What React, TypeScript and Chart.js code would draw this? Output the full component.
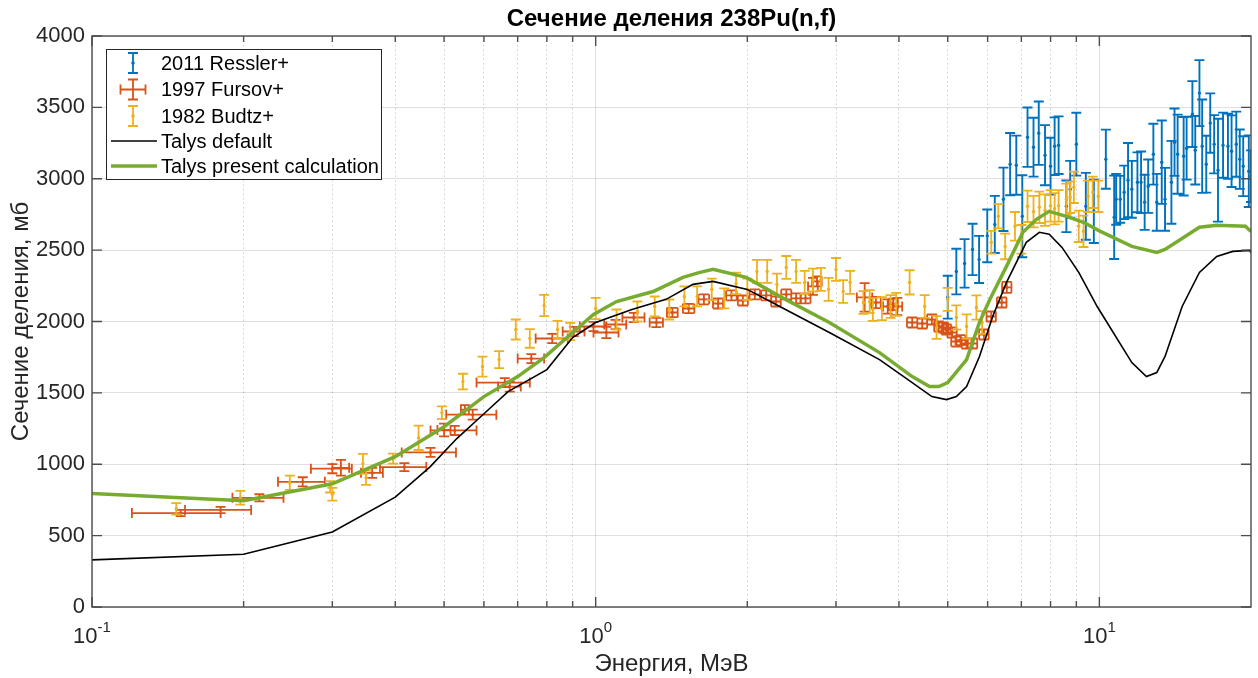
import React, { useEffect, useRef } from "react";
import { Chart, registerables } from "chart.js";

Chart.register(...registerables);

// ---------------- data ----------------
const X_MIN = 0.1;
const X_MAX = 20;
const Y_MIN = 0;
const Y_MAX = 4000;
const Y_STEP = 500;
const decadeStarts = [0.1, 1, 10];
const decadeExponents = ["-1", "0", "1"];
const minorMultipliers = [1, 2, 3, 4, 5, 6, 7, 8, 9];

const chartTitle = "Сечение деления 238Pu(n,f)";
const xTitle = "Энергия, МэВ";
const yTitle = "Сечение деления, мб";
const seriesLabels = ["2011 Ressler+", "1997 Fursov+", "1982 Budtz+", "Talys default", "Talys present calculation"];

// 2011 Ressler+ (energy MeV, cross-section mb, error mb)
const resslerE = [5.0, 5.2, 5.4, 5.6, 5.77, 5.99, 6.2, 6.45, 6.65, 6.84, 7.03, 7.2, 7.4, 7.58, 7.8, 8.0, 8.15, 8.3, 8.6, 8.75, 9.0, 9.4, 9.75, 10.3, 10.7, 10.8, 11.0, 11.2, 11.4, 11.6, 11.9, 12.1, 12.3, 12.5, 12.8, 13.0, 13.3, 13.5, 13.9, 14.1, 14.3, 14.7, 14.9, 15.3, 15.5, 15.8, 16.0, 16.3, 16.6, 16.9, 17.2, 17.6, 18.0, 18.3, 18.7, 19.0, 19.3, 19.8, 20.0];
const resslerXS = [2170, 2350, 2407, 2505, 2435, 2600, 2680, 2856, 3102, 3095, 2737, 3291, 3221, 3319, 3165, 3088, 3228, 3235, 2807, 2926, 3242, 2807, 2772, 3137, 2730, 2856, 2856, 2905, 2990, 2926, 2975, 2975, 2835, 2948, 3172, 2835, 3116, 2856, 2975, 3256, 3172, 3158, 3214, 3453, 3200, 3600, 3228, 3102, 3390, 3242, 3060, 3235, 3228, 3193, 3242, 3137, 3088, 3053, 3018];
const resslerErr = [150, 160, 170, 180, 165, 185, 200, 222, 218, 207, 287, 208, 206, 222, 211, 199, 202, 202, 181, 199, 220, 234, 222, 207, 292, 178, 164, 187, 260, 199, 210, 216, 193, 187, 213, 199, 292, 220, 290, 236, 277, 275, 220, 231, 240, 231, 327, 199, 208, 204, 360, 228, 228, 251, 228, 208, 210, 251, 181];

// 1997 Fursov+ (energy, energy error, cross-section, error)
const fursovE = [0.15, 0.18, 0.215, 0.262, 0.30, 0.312, 0.36, 0.417, 0.47, 0.50, 0.525, 0.55, 0.57, 0.66, 0.675, 0.745, 0.82, 0.905, 0.99, 1.05, 1.095, 1.19, 1.32, 1.42, 1.53, 1.64, 1.75, 1.86, 1.96, 2.07, 2.18, 2.28, 2.39, 2.5, 2.61, 2.7, 2.75, 3.42, 3.6, 3.8, 3.9, 3.97, 4.25, 4.45, 4.65, 4.8, 4.9, 4.97, 5.1, 5.2, 5.3, 5.45, 5.6, 5.9, 6.1, 6.4, 6.55];
const fursovEErr = [0.03, 0.027, 0.025, 0.028, 0.028, 0.012, 0.018, 0.044, 0.058, 0.015, 0.055, 0.01, 0.065, 0.08, 0.035, 0.045, 0.06, 0.045, 0.06, 0.06, 0.055, 0.06, 0.04, 0.035, 0.04, 0.04, 0.04, 0.045, 0.045, 0.05, 0.05, 0.05, 0.055, 0.055, 0.06, 0.06, 0.06, 0.12, 0.08, 0.08, 0.08, 0.09, 0.1, 0.1, 0.1, 0.1, 0.11, 0.11, 0.11, 0.12, 0.12, 0.12, 0.12, 0.13, 0.13, 0.14, 0.14];
const fursovXS = [658, 680, 765, 877, 969, 975, 940, 980, 1083, 1240, 1237, 1382, 1347, 1572, 1544, 1740, 1881, 1930, 1965, 1923, 1979, 2028, 1993, 2063, 2091, 2155, 2126, 2183, 2147, 2190, 2183, 2140, 2190, 2162, 2162, 2246, 2281, 2169, 2133, 2105, 2120, 2105, 1993, 1986, 2014, 1965, 1958, 1944, 1923, 1860, 1870, 1846, 1846, 1909, 2035, 2133, 2239];
const fursovErr = [22, 22, 25, 32, 32, 55, 35, 28, 32, 45, 32, 32, 35, 32, 35, 32, 32, 32, 32, 40, 32, 32, 32, 32, 32, 35, 35, 35, 35, 35, 35, 35, 35, 35, 35, 60, 35, 100, 40, 50, 40, 60, 35, 35, 35, 35, 35, 35, 35, 35, 35, 35, 35, 35, 35, 35, 38];

// 1982 Budtz+ (energy, cross-section, error)
const budtzE = [0.147, 0.197, 0.247, 0.297, 0.30, 0.345, 0.35, 0.396, 0.445, 0.495, 0.545, 0.596, 0.643, 0.694, 0.74, 0.79, 0.84, 0.89, 1.0, 1.1, 1.21, 1.31, 1.40, 1.5, 1.59, 1.70, 1.8, 1.9, 2.0, 2.09, 2.19, 2.29, 2.39, 2.5, 2.6, 2.7, 2.8, 2.9, 3.0, 3.1, 3.2, 3.4, 3.5, 3.55, 3.7, 3.85, 3.95, 4.2, 4.5, 4.75, 5.0, 5.2, 5.45, 5.7, 5.85, 6.1, 6.3, 6.5, 6.8, 7.0, 7.2, 7.4, 7.6, 7.8, 8.0, 8.15, 8.3, 8.6, 8.75, 8.9, 9.1, 9.3, 9.5, 9.7, 9.95];
const budtzXS = [688, 765, 870, 842, 790, 1003, 905, 1039, 1185, 1361, 1579, 1684, 1733, 1944, 1881, 2112, 1944, 1930, 2091, 2014, 2070, 2105, 2084, 2176, 2176, 2225, 2162, 2267, 2225, 2351, 2351, 2260, 2379, 2351, 2274, 2290, 2295, 2225, 2365, 2210, 2274, 2133, 2140, 2084, 2090, 2105, 2120, 2274, 2105, 1958, 2155, 2028, 1965, 2098, 1993, 2555, 2737, 2526, 2667, 2576, 2807, 2770, 2800, 2780, 2810, 2790, 2810, 2856, 2870, 2940, 2667, 2632, 2877, 2905, 2877];
const budtzErr = [40, 48, 50, 40, 45, 70, 50, 35, 85, 45, 55, 70, 60, 70, 65, 75, 60, 60, 75, 70, 70, 70, 70, 70, 70, 75, 70, 75, 75, 80, 80, 75, 80, 80, 80, 80, 80, 80, 80, 80, 80, 80, 80, 80, 80, 80, 80, 85, 80, 80, 80, 85, 85, 85, 80, 80, 85, 90, 100, 100, 110, 110, 110, 110, 110, 110, 110, 110, 110, 110, 110, 110, 110, 110, 110];

// Talys default
const talysDefaultE = [0.1, 0.2, 0.3, 0.4, 0.469, 0.53, 0.603, 0.67, 0.8, 0.9, 1.0, 1.18, 1.38, 1.56, 1.71, 2.0, 2.32, 2.91, 3.66, 4.25, 4.65, 4.97, 5.2, 5.45, 5.78, 6.14, 6.54, 7.16, 7.6, 7.95, 8.43, 9.1, 9.9, 11.6, 12.4, 13.0, 13.5, 14.6, 15.8, 17.1, 18.4, 19.9, 20.0];
const talysDefaultXS = [330, 370, 525, 770, 982, 1180, 1361, 1509, 1663, 1888, 1993, 2084, 2155, 2260, 2281, 2225, 2105, 1923, 1733, 1572, 1474, 1453, 1474, 1544, 1755, 2035, 2274, 2555, 2625, 2611, 2519, 2344, 2105, 1712, 1614, 1642, 1755, 2105, 2344, 2456, 2491, 2498, 2480];

// Talys present calculation
const talysPresentE = [0.1, 0.2, 0.3, 0.4, 0.5, 0.6, 0.7, 0.79, 0.9, 0.99, 1.1, 1.3, 1.49, 1.61, 1.71, 1.99, 2.32, 2.91, 3.66, 4.25, 4.6, 4.8, 5.0, 5.45, 5.78, 6.06, 6.54, 7.05, 7.5, 7.95, 8.6, 9.3, 10.0, 11.6, 13.0, 13.5, 15.8, 17.1, 19.5, 20.0];
const talysPresentXS = [795, 744, 863, 1053, 1263, 1474, 1614, 1747, 1923, 2049, 2140, 2210, 2309, 2344, 2365, 2309, 2176, 1993, 1782, 1614, 1544, 1544, 1572, 1733, 1993, 2154, 2386, 2625, 2716, 2772, 2737, 2695, 2635, 2526, 2484, 2505, 2660, 2674, 2667, 2630];

// ---------------- styles ----------------
const FONT = "'Liberation Sans', Arial, Helvetica, sans-serif";
const AXIS_COLOR = "#262626";
const BLUE = "#0072BD";
const ORANGE = "#D95319";
const YELLOW = "#EDB120";
const GREEN = "#77AC30";
const BLACK = "#000000";

const isDecade = (v: number) => Math.abs(Math.log10(v) - Math.round(Math.log10(v))) < 1e-6;

const errorBarPlugin = {
  id: "errorBars",
  afterDatasetDraw(chart: any, args: any) {
    const ds: any = chart.data.datasets[args.index];
    if (!ds.errStyle) return;
    const { ctx, chartArea: a } = chart;
    const xs = chart.scales.x;
    const ys = chart.scales.y;
    const cap = ds.errStyle.cap;
    ctx.save();
    ctx.beginPath();
    ctx.rect(a.left, a.top, a.right - a.left, a.bottom - a.top);
    ctx.clip();
    ctx.strokeStyle = ds.borderColor;
    ctx.lineWidth = ds.errStyle.width;
    ctx.beginPath();
    for (const p of ds.data) {
      const px = xs.getPixelForValue(p.x);
      const py = ys.getPixelForValue(p.y);
      if (p.yerr) {
        const y1 = ys.getPixelForValue(p.y - p.yerr);
        const y2 = ys.getPixelForValue(p.y + p.yerr);
        ctx.moveTo(px, y1); ctx.lineTo(px, y2);
        ctx.moveTo(px - cap, y1); ctx.lineTo(px + cap, y1);
        ctx.moveTo(px - cap, y2); ctx.lineTo(px + cap, y2);
      }
      if (p.xerr) {
        const x1 = xs.getPixelForValue(p.x - p.xerr);
        const x2 = xs.getPixelForValue(p.x + p.xerr);
        ctx.moveTo(x1, py); ctx.lineTo(x2, py);
        ctx.moveTo(x1, py - cap); ctx.lineTo(x1, py + cap);
        ctx.moveTo(x2, py - cap); ctx.lineTo(x2, py + cap);
      }
    }
    ctx.stroke();
    ctx.restore();
  },
};

const framePlugin = {
  id: "matlabFrame",
  afterDraw(chart: any) {
    const { ctx, chartArea: a } = chart;
    const xs = chart.scales.x;
    const ys = chart.scales.y;
    ctx.save();
    // box
    ctx.strokeStyle = "#4d4d4d";
    ctx.lineWidth = 1.4;
    ctx.strokeRect(a.left, a.top, a.right - a.left, a.bottom - a.top);
    // ticks
    ctx.beginPath();
    for (const t of xs.ticks) {
      const px = xs.getPixelForValue(t.value);
      const len = isDecade(t.value) ? 10 : 6;
      ctx.moveTo(px, a.bottom); ctx.lineTo(px, a.bottom - len);
      ctx.moveTo(px, a.top); ctx.lineTo(px, a.top + len);
    }
    for (const t of ys.ticks) {
      const py = ys.getPixelForValue(t.value);
      ctx.moveTo(a.left, py); ctx.lineTo(a.left + 10, py);
      ctx.moveTo(a.right, py); ctx.lineTo(a.right - 10, py);
    }
    ctx.stroke();

    // x tick labels 10^n
    ctx.fillStyle = AXIS_COLOR;
    ctx.textBaseline = "alphabetic";
    decadeStarts.forEach((v, i) => {
      const px = xs.getPixelForValue(v);
      ctx.font = `22px ${FONT}`;
      const wBase = ctx.measureText("10").width;
      ctx.font = `15px ${FONT}`;
      const wExp = ctx.measureText(decadeExponents[i]).width;
      const x0 = px - (wBase + wExp) / 2;
      ctx.textAlign = "left";
      ctx.font = `22px ${FONT}`;
      ctx.fillText("10", x0, 643);
      ctx.font = `15px ${FONT}`;
      ctx.fillText(decadeExponents[i], x0 + wBase, 632);
    });

    // axis titles
    ctx.textAlign = "center";
    ctx.textBaseline = "middle";
    ctx.font = `24px ${FONT}`;
    ctx.fillText(xTitle, (a.left + a.right) / 2, 664);
    ctx.save();
    ctx.translate(21, (a.top + a.bottom) / 2);
    ctx.rotate(-Math.PI / 2);
    ctx.fillText(yTitle, 0, 0);
    ctx.restore();

    // title
    ctx.fillStyle = "#000";
    ctx.font = `bold 24px ${FONT}`;
    ctx.fillText(chartTitle, (a.left + a.right) / 2, 19);

    // legend
    const lx = 106, ly = 49, lw = 275, lh = 130;
    ctx.fillStyle = "#fff";
    ctx.fillRect(lx, ly, lw, lh);
    ctx.strokeStyle = AXIS_COLOR;
    ctx.lineWidth = 1;
    ctx.strokeRect(lx + 0.5, ly + 0.5, lw, lh);
    const rows = [63, 89.5, 116, 141, 166];
    const iconX = 133;
    const drawVBar = (color: string, cy: number) => {
      ctx.strokeStyle = color;
      ctx.lineWidth = 1.8;
      ctx.beginPath();
      ctx.moveTo(iconX, cy - 10); ctx.lineTo(iconX, cy + 10);
      ctx.moveTo(iconX - 5, cy - 10); ctx.lineTo(iconX + 5, cy - 10);
      ctx.moveTo(iconX - 5, cy + 10); ctx.lineTo(iconX + 5, cy + 10);
      ctx.stroke();
      ctx.fillStyle = color;
      ctx.beginPath(); ctx.arc(iconX, cy, 1.8, 0, Math.PI * 2); ctx.fill();
    };
    drawVBar(BLUE, rows[0]);
    // fursov cross
    ctx.strokeStyle = ORANGE;
    ctx.lineWidth = 1.8;
    ctx.beginPath();
    ctx.moveTo(iconX, rows[1] - 10); ctx.lineTo(iconX, rows[1] + 10);
    ctx.moveTo(iconX - 5, rows[1] - 10); ctx.lineTo(iconX + 5, rows[1] - 10);
    ctx.moveTo(iconX - 5, rows[1] + 10); ctx.lineTo(iconX + 5, rows[1] + 10);
    ctx.moveTo(iconX - 12.5, rows[1]); ctx.lineTo(iconX + 12.5, rows[1]);
    ctx.moveTo(iconX - 12.5, rows[1] - 5); ctx.lineTo(iconX - 12.5, rows[1] + 5);
    ctx.moveTo(iconX + 12.5, rows[1] - 5); ctx.lineTo(iconX + 12.5, rows[1] + 5);
    ctx.stroke();
    drawVBar(YELLOW, rows[2]);
    ctx.strokeStyle = BLACK;
    ctx.lineWidth = 1.6;
    ctx.beginPath(); ctx.moveTo(111, rows[3]); ctx.lineTo(157, rows[3]); ctx.stroke();
    ctx.strokeStyle = GREEN;
    ctx.lineWidth = 3.5;
    ctx.beginPath(); ctx.moveTo(111, rows[4]); ctx.lineTo(157, rows[4]); ctx.stroke();

    ctx.fillStyle = "#000";
    ctx.font = `20px ${FONT}`;
    ctx.textAlign = "left";
    ctx.textBaseline = "middle";
    seriesLabels.forEach((s, i) => ctx.fillText(s, 161, rows[i] + 1));
    ctx.restore();
  },
};

export default function App() {
  const ref = useRef<HTMLCanvasElement | null>(null);

  useEffect(() => {
    document.body.style.margin = "0";
    const canvas = ref.current;
    if (!canvas) return;

    const resslerPts = resslerE.map((e, i) => ({ x: e, y: resslerXS[i], yerr: resslerErr[i] }));
    const fursovPts = fursovE.map((e, i) => ({ x: e, y: fursovXS[i], xerr: fursovEErr[i], yerr: fursovErr[i] }));
    const budtzPts = budtzE.map((e, i) => ({ x: e, y: budtzXS[i], yerr: budtzErr[i] }));
    const tdPts = talysDefaultE.map((e, i) => ({ x: e, y: talysDefaultXS[i] }));
    const tpPts = talysPresentE.map((e, i) => ({ x: e, y: talysPresentXS[i] }));

    const chart = new Chart(canvas, {
      type: "scatter",
      data: {
        datasets: [
          { label: seriesLabels[0], data: resslerPts, borderColor: BLUE, backgroundColor: BLUE, pointRadius: 1.7, pointBorderWidth: 0, showLine: false, order: 5, errStyle: { cap: 5, width: 1.9 } } as any,
          { label: seriesLabels[1], data: fursovPts, borderColor: ORANGE, backgroundColor: ORANGE, pointRadius: 1.5, pointBorderWidth: 0, showLine: false, order: 4, errStyle: { cap: 5, width: 1.8 } } as any,
          { label: seriesLabels[2], data: budtzPts, borderColor: YELLOW, backgroundColor: YELLOW, pointRadius: 1.7, pointBorderWidth: 0, showLine: false, order: 3, errStyle: { cap: 5, width: 1.8 } } as any,
          { label: seriesLabels[3], data: tdPts, borderColor: BLACK, backgroundColor: BLACK, borderWidth: 1.6, pointRadius: 0, showLine: true, tension: 0, order: 2 } as any,
          { label: seriesLabels[4], data: tpPts, borderColor: GREEN, backgroundColor: GREEN, borderWidth: 3.5, pointRadius: 0, showLine: true, tension: 0, order: 1 } as any,
        ],
      },
      options: {
        responsive: false,
        animation: false,
        events: [],
        layout: { padding: { left: 0, right: 7, top: 36, bottom: 0 } },
        plugins: { legend: { display: false }, title: { display: false }, tooltip: { enabled: false } },
        scales: {
          x: {
            type: "logarithmic",
            min: X_MIN,
            max: X_MAX,
            afterBuildTicks: (scale: any) => {
              const t: any[] = [];
              for (const d of decadeStarts) {
                for (const k of minorMultipliers) {
                  const v = parseFloat((d * k).toPrecision(4));
                  if (v >= X_MIN && v < X_MAX) t.push({ value: v, major: k === 1 });
                }
              }
              scale.ticks = t;
            },
            afterFit: (scale: any) => { scale.height = 71; },
            ticks: { display: false },
            grid: {
              drawTicks: false,
              lineWidth: 1,
              color: (c: any) => (c.tick && isDecade(c.tick.value) ? "rgba(38,38,38,0.15)" : "rgba(38,38,38,0.22)"),
            },
            border: {
              display: false,
              dash: (c: any) => (c.tick && !isDecade(c.tick.value) ? [1.5, 3] : []),
            },
          },
          y: {
            type: "linear",
            min: Y_MIN,
            max: Y_MAX,
            afterFit: (scale: any) => { scale.width = 92; },
            ticks: {
              stepSize: Y_STEP,
              padding: 7,
              color: AXIS_COLOR,
              font: { size: 22, family: FONT },
              callback: (v: any) => String(v),
            },
            grid: { drawTicks: false, lineWidth: 1, color: "rgba(38,38,38,0.15)" },
            border: { display: false },
          },
        },
      } as any,
      plugins: [errorBarPlugin, framePlugin],
    });

    return () => chart.destroy();
  }, []);

  return (
    <div style={{ width: 1258, height: 678, background: "#fff" }}>
      <canvas ref={ref} width={1258} height={678} style={{ display: "block" }} />
    </div>
  );
}
